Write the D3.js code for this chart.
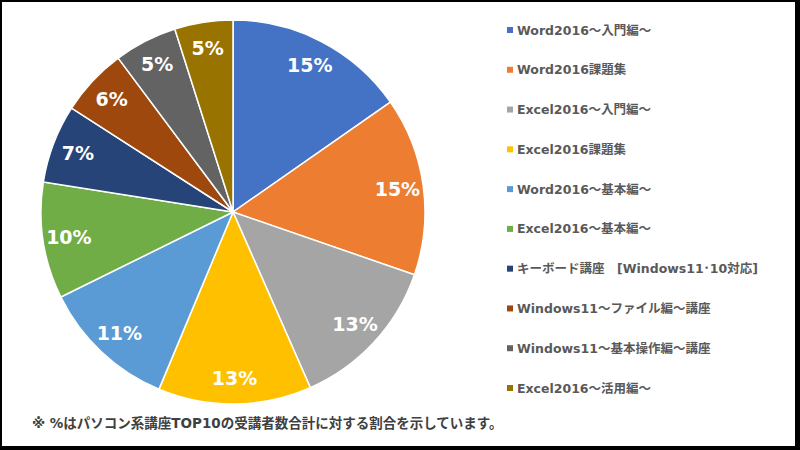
<!DOCTYPE html>
<html>
<head>
<meta charset="utf-8">
<script src="https://cdn.jsdelivr.net/npm/d3@7"></script>
<style>
  body { margin: 0; background: #000; }
  svg { display: block; }
</style>
</head>
<body>
<svg id="chart" width="800" height="450"></svg>
<script>
  // courses, clockwise from 12 o'clock
  const courses = [
    "Word2016～入門編～",
    "Word2016課題集",
    "Excel2016～入門編～",
    "Excel2016課題集",
    "Word2016～基本編～",
    "Excel2016～基本編～",
    "キーボード講座　[Windows11･10対応]",
    "Windows11～ファイル編～講座",
    "Windows11～基本操作編～講座",
    "Excel2016～活用編～"
  ];
  // share of attendees (%)
  const shares = [15.3, 15.0, 13.1, 12.9, 11.4, 9.8, 6.6, 5.7, 5.3, 4.9];
  const colors = ["#4472c4", "#ed7d31", "#a5a5a5", "#ffc000", "#5b9bd5",
                  "#70ad47", "#264478", "#9e480e", "#636363", "#997300"];
  const note = "※ %はパソコン系講座TOP10の受講者数合計に対する割合を示しています。";

  const w = 800, h = 450;
  const cx = 233, cy = 212, r = 192;
  const total = d3.sum(shares);
  const data = courses.map((c, i) => ({name: c, value: shares[i], color: colors[i]}));

  const svg = d3.select("#chart");

  // black frame, thicker on right/bottom
  svg.append("rect").attr("width", w).attr("height", h).attr("fill", "#000");
  svg.append("rect").attr("x", 2).attr("y", 2)
    .attr("width", 793).attr("height", 444).attr("fill", "#fff");

  const pie = d3.pie().value(d => d.value).sort(null);
  const arc = d3.arc().innerRadius(0).outerRadius(r);
  const labelArc = d3.arc().innerRadius(166).outerRadius(166);

  const g = svg.append("g").attr("transform", `translate(${cx},${cy})`);
  const arcs = pie(data);

  g.selectAll("path")
    .data(arcs)
    .enter()
    .append("path")
    .attr("d", arc)
    .attr("fill", d => d.data.color)
    .attr("stroke", "#fff")
    .attr("stroke-width", 1.5);

  g.selectAll("text")
    .data(arcs)
    .enter()
    .append("text")
    .attr("transform", d => `translate(${labelArc.centroid(d)})`)
    .attr("text-anchor", "middle")
    .attr("dy", "0.36em")
    .attr("fill", "#fff")
    .style("font-family", "'DejaVu Sans', 'Noto Sans CJK JP', sans-serif")
    .style("font-weight", "bold")
    .style("font-size", "19px")
    .text(d => Math.round(d.data.value / total * 100) + "%");

  // legend
  const legendY = d3.scalePoint().domain(courses).range([30, 388]);
  const legend = svg.append("g")
    .selectAll("g")
    .data(data)
    .enter()
    .append("g")
    .attr("transform", d => `translate(507,${legendY(d.name)})`);

  legend.append("rect")
    .attr("x", 0).attr("y", -3)
    .attr("width", 6).attr("height", 6)
    .attr("fill", d => d.color);

  legend.append("text")
    .attr("x", 10)
    .attr("dy", "0.36em")
    .attr("fill", "#595959")
    .style("font-family", "'DejaVu Sans', 'Noto Sans CJK JP', sans-serif")
    .style("font-weight", "bold")
    .style("font-size", "12.5px")
    .text(d => d.name);

  // footnote
  svg.append("text")
    .attr("x", 32)
    .attr("y", 423)
    .attr("dy", "0.36em")
    .attr("fill", "#404040")
    .style("font-family", "'DejaVu Sans', 'Noto Sans CJK JP', sans-serif")
    .style("font-weight", "bold")
    .style("font-size", "13.5px")
    .text(note);
</script>
</body>
</html>
